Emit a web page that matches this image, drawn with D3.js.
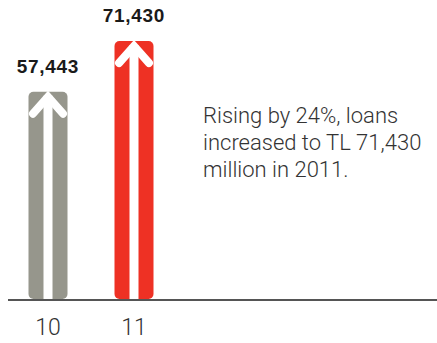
<html>
   <head>
      <meta charset="UTF-8">
      <title>Loans</title>
      <script src="https://d3js.org/d3.v7.min.js"></script>
      <style>
         body{ margin:0; background:#fff; }
         svg{ display:block; }
      </style>
   </head>
   <body>
      <svg width="437" height="343"></svg>
      <script type="text/javascript">
         // data
         var years = ["10","11"];
         var loans = [57443, 71430];
         var barColors = ["#96968c","#ee3124"];
         var noteLines = ["Rising by 24%, loans","increased to TL 71,430","million in 2011."];

         var width = 437, height = 343;
         var baseY = 300;
         var barW = 39;

         var svg = d3.select("svg")
               .attr("width",width)
               .attr("height",height);

         var xScale = d3.scalePoint()
               .domain(years)
               .range([48,134]);
         var yScale = d3.scaleLinear()
               .domain([0,71430])
               .range([baseY,41]);

         var data = years.map(function(y,i){ return {year:y, value:loans[i], color:barColors[i]}; });

         var bars = svg.selectAll("g.bar")
               .data(data)
               .enter()
               .append("g")
               .classed("bar",true);

         bars.append("rect")
             .attr("x",function(d){ return xScale(d.year)-barW/2; })
             .attr("y",function(d){ return yScale(d.value); })
             .attr("width",barW)
             .attr("height",function(d){ return baseY-1-yScale(d.value); })
             .attr("rx",5)
             .attr("fill",function(d){ return d.color; });

         // arrow shaft
         bars.append("line")
             .attr("x1",function(d){ return xScale(d.year); })
             .attr("x2",function(d){ return xScale(d.year); })
             .attr("y1",function(d){ return yScale(d.value)+4; })
             .attr("y2",baseY-1)
             .attr("stroke","#fff")
             .attr("stroke-width",9);

         // arrow head
         bars.append("path")
             .attr("d",function(d){
               var cx = xScale(d.year), ty = yScale(d.value)+5;
               return "M"+(cx-15)+","+(ty+17)+"L"+cx+","+ty+"L"+(cx+15)+","+(ty+17);
             })
             .attr("fill","none")
             .attr("stroke","#fff")
             .attr("stroke-width",8)
             .attr("stroke-linecap","round")
             .attr("stroke-linejoin","miter");

         // value labels
         bars.append("text")
             .attr("x",function(d){ return xScale(d.year); })
             .attr("y",function(d){ return yScale(d.value)-19; })
             .attr("text-anchor","middle")
             .style("font-family","'Liberation Sans', Arial, sans-serif")
             .style("font-weight","bold")
             .style("font-size","19px")
             .style("letter-spacing","0.7px")
             .attr("fill","#1a1a1a")
             .text(function(d){ return d3.format(",")(d.value); });

         // baseline
         svg.append("line")
            .attr("x1",8)
            .attr("x2",width)
            .attr("y1",baseY)
            .attr("y2",baseY)
            .attr("stroke","#555")
            .attr("stroke-width",2);

         // category labels
         svg.selectAll("text.tick")
            .data(years)
            .enter()
            .append("text")
            .classed("tick",true)
            .attr("x",function(d){ return xScale(d); })
            .attr("y",335)
            .attr("text-anchor","middle")
            .style("font-family","Roboto, sans-serif")
            .style("font-weight","300")
            .style("font-size","23px")
            .attr("fill","#333")
            .text(function(d){ return d; });

         // note
         svg.append("text")
            .attr("x",203)
            .attr("y",123)
            .style("font-family","Roboto, sans-serif")
            .style("font-weight","300")
            .style("font-size","22px")
            .attr("fill","#333")
            .selectAll("tspan")
            .data(noteLines)
            .enter()
            .append("tspan")
            .attr("x",203)
            .attr("dy",function(d,i){ return i==0 ? 0 : 27; })
            .text(function(d){ return d; });
      </script>
   </body>
</html>
